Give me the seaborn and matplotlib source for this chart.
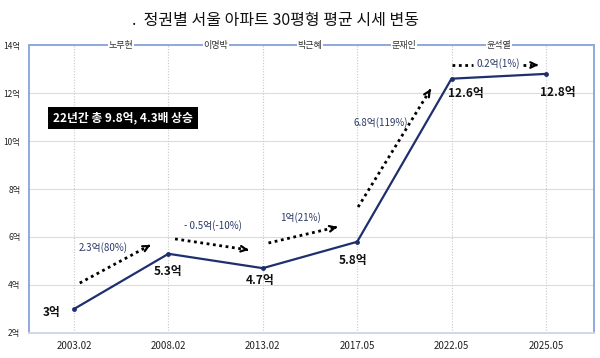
import matplotlib
matplotlib.use("Agg")
import matplotlib.pyplot as plt
import seaborn as sns
import pandas as pd

# data
periods = ["2003.02", "2008.02", "2013.02", "2017.05", "2022.05", "2025.05"]
prices = [3.0, 5.3, 4.7, 5.8, 12.6, 12.8]
price_labels = ["3억", "5.3억", "4.7억", "5.8억", "12.6억", "12.8억"]
presidents = ["노무현", "이명박", "박근혜", "문재인", "윤석열"]
change_labels = ["2.3억(80%)", "- 0.5억(-10%)", "1억(21%)", "6.8억(119%)", "0.2억(1%)"]
y_ticks = [2, 4, 6, 8, 10, 12, 14]

df = pd.DataFrame({"period": periods, "price": prices})

sns.set_style("white")
plt.rcParams["font.family"] = ["Noto Sans CJK KR", "DejaVu Sans"]

fig = plt.figure(figsize=(6, 3.58), dpi=100)
ax = fig.add_axes([0.048, 0.070, 0.942, 0.804])

sns.lineplot(data=df, x="period", y="price", ax=ax, color="#1f2f6e",
             linewidth=1.6, marker="o", markersize=3.5, markeredgewidth=0,
             zorder=3)

ax.set_xlim(-0.48, 5.51)
ax.set_ylim(2, 14)
ax.set_yticks(y_ticks)
ax.set_yticklabels([f"{v}억" for v in y_ticks], fontsize=6, color="#222222")
ax.tick_params(axis="y", length=0, pad=6)
ax.tick_params(axis="x", length=0, pad=6, labelsize=7, labelcolor="#222222")
ax.set_xlabel("")
ax.set_ylabel("")

ax.grid(axis="y", color="#dcdcdc", linewidth=0.8)
for i in range(len(periods)):
    ax.axvline(i, color="#c8c8c8", linestyle=(0, (1, 1.5)), linewidth=0.8, zorder=1)

for side in ["left", "right", "top"]:
    ax.spines[side].set_color("#8eaadb")
    ax.spines[side].set_linewidth(1.4)
ax.spines["bottom"].set_color("#cfd8ea")
ax.spines["bottom"].set_linewidth(1.4)

# president names on the top frame line
for i, name in enumerate(presidents):
    ax.text(i + 0.5, 14, name, ha="center", va="center", fontsize=6.5,
            color="#333333", bbox=dict(facecolor="white", edgecolor="none", pad=0.5),
            clip_on=False, zorder=5)

# value labels
label_offsets = [(-0.24, -0.13), (0.0, -0.72), (-0.03, -0.5), (-0.04, -0.76),
                 (0.15, -0.6), (0.13, -0.76)]
for i, (lab, (dx, dy)) in enumerate(zip(price_labels, label_offsets)):
    ax.text(i + dx, prices[i] + dy, lab, ha="center", va="center", fontsize=8.5,
            fontweight="bold", color="#111111", zorder=4)

# dotted change arrows
arrows = [((0.06, 4.08), (0.81, 5.67)),
          ((1.07, 5.92), (1.85, 5.46)),
          ((2.06, 5.75), (2.79, 6.42)),
          ((3.01, 7.25), (3.78, 12.17)),
          ((4.01, 13.17), (4.92, 13.17))]
label_pos = [(0.31, 5.58), (1.47, 6.46), (2.40, 6.83), (3.25, 10.79), (4.49, 13.25)]

for k, ((x0, y0), (x1, y1)) in enumerate(arrows):
    if k == 4:
        ax.plot([x0, 4.23], [y0, y0], color="black", linestyle=(0, (1, 1.3)),
                linewidth=2.0, zorder=4)
        ax.plot([4.76, x1 - 0.02], [y0, y0], color="black", linestyle=(0, (1, 1.3)),
                linewidth=2.0, zorder=4)
    else:
        fx = x0 + (x1 - x0) * 0.96
        fy = y0 + (y1 - y0) * 0.96
        ax.plot([x0, fx], [y0, fy], color="black", linestyle=(0, (1, 1.3)),
                linewidth=2.0, zorder=4)
    ax.annotate("", xy=(x1, y1),
                xytext=(x0 + (x1 - x0) * 0.97, y0 + (y1 - y0) * 0.97),
                arrowprops=dict(arrowstyle="->", color="black", lw=1.6,
                                mutation_scale=10), zorder=4)
    lx, ly = label_pos[k]
    ax.text(lx, ly, change_labels[k], ha="center", va="center", fontsize=7,
            color="#2b3a67", zorder=4)

# summary box
ax.text(0.52, 10.96, "22년간 총 9.8억, 4.3배 상승", ha="center", va="center",
        fontsize=8.5, fontweight="bold", color="white",
        bbox=dict(facecolor="black", edgecolor="none", pad=3.5), zorder=5)

fig.text(0.46, 0.942, ".  정권별 서울 아파트 30평형 평균 시세 변동", ha="center",
         va="center", fontsize=11.5, color="#111111")

fig.savefig("out.png", dpi=100)
